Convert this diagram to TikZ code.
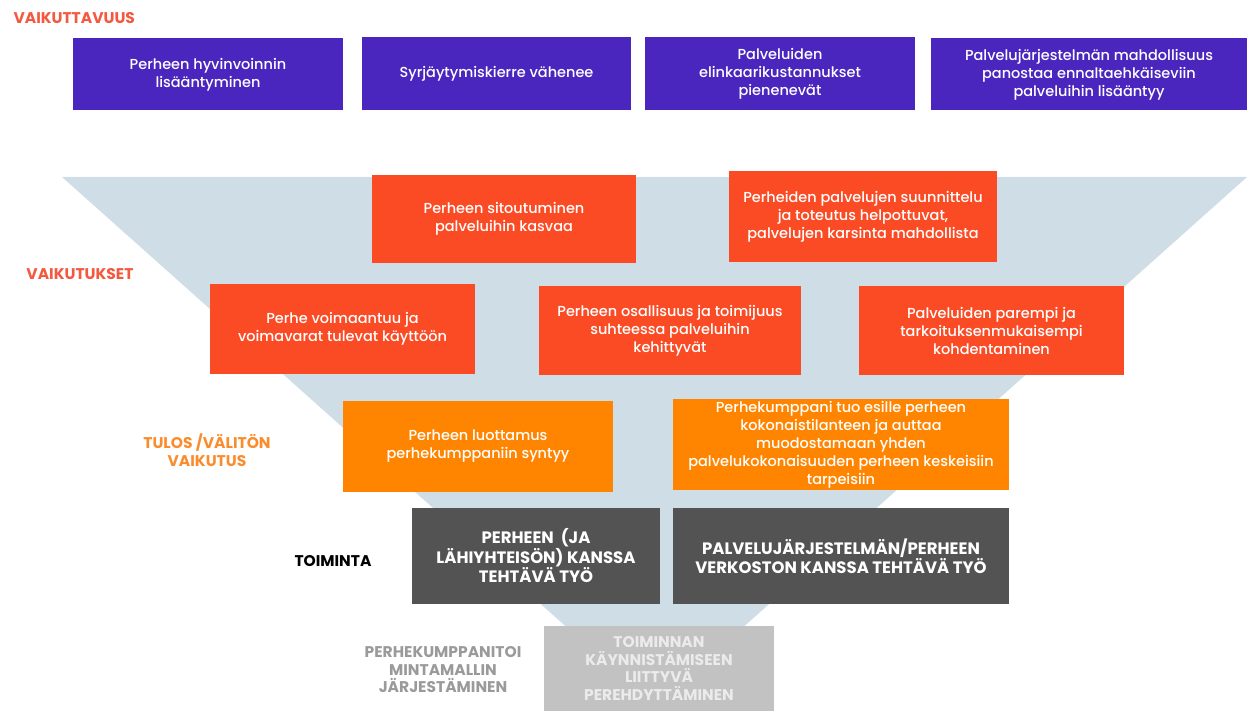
\documentclass[tikz,border=0pt]{standalone}
\usepackage{fontspec}
\setmainfont{Poppins}
\newfontfamily\medfont{Poppins Medium}

\definecolor{purplebg}{RGB}{75,38,190}
\definecolor{redbg}{RGB}{250,75,37}
\definecolor{orangebg}{RGB}{255,133,0}
\definecolor{darkbg}{RGB}{83,83,83}
\definecolor{graybg}{RGB}{194,194,194}
\definecolor{funnel}{RGB}{207,222,230}
\definecolor{labred}{RGB}{244,88,63}
\definecolor{laborange}{RGB}{251,140,46}
\definecolor{labgray}{RGB}{154,154,154}

\begin{document}
\begin{tikzpicture}[x=1pt, y=-1pt]
    \def\bh{90}
    \tikzset{box/.style={rectangle, minimum height=\bh pt, inner sep=2pt, align=center,
                         text=white, font=\medfont\fontsize{14.5}{18}\selectfont}}
    \tikzset{purplebox/.style={box, fill=purplebg, minimum height=72pt}}
    \tikzset{redbox/.style={box, fill=redbg}}
    \tikzset{orangebox/.style={box, fill=orangebg}}
    \tikzset{darkbox/.style={box, fill=darkbg, minimum height=96pt, font=\fontsize{16.5}{17.5}\selectfont\bfseries}}
    \tikzset{graybox/.style={box, fill=graybg, text=white!92!black, minimum height=85pt, font=\fontsize{15.5}{17.5}\selectfont\bfseries}}
    \tikzset{lab/.style={align=center, font=\fontsize{15.5}{17.5}\selectfont\bfseries}}
    \useasboundingbox (0,0) rectangle (1247,711);

    % funnel
    \fill[funnel] (62,177) -- (1247,177) -- (655,706) -- cycle;

    % vaikuttavuus
    \node[lab, text=labred, anchor=west] (lv) at (10,18) {VAIKUTTAVUUS};
    \node[purplebox, minimum width=270pt] (p1) at (208,74.5) {Perheen hyvinvoinnin\\lisääntyminen};
    \node[purplebox, minimum width=269pt, minimum height=73pt] (p2) at (496.5,73.5) {Syrjäytymiskierre vähenee};
    \node[purplebox, minimum width=270pt, minimum height=73pt] (p3) at (780,73.5) {Palveluiden\\elinkaarikustannukset\\pienenevät};
    \node[purplebox, minimum width=316pt] (p4) at (1089,74.5) {Palvelujärjestelmän mahdollisuus\\panostaa ennaltaehkäiseviin\\palveluihin lisääntyy};

    % vaikutukset
    \node[lab, text=labred] (lt) at (80,274) {VAIKUTUKSET};
    \node[redbox, minimum width=264pt, minimum height=88pt] (r1) at (504,219) {Perheen sitoutuminen\\palveluihin kasvaa};
    \node[redbox, minimum width=268pt, minimum height=91pt] (r2) at (863,216.5) {Perheiden palvelujen suunnittelu\\ja toteutus helpottuvat,\\palvelujen karsinta mahdollista};
    \node[redbox, minimum width=265pt] (r3) at (342.5,329) {Perhe voimaantuu ja\\voimavarat tulevat käyttöön};
    \node[redbox, minimum width=262pt, minimum height=89pt] (r4) at (670,330.5) {Perheen osallisuus ja toimijuus\\suhteessa palveluihin\\kehittyvät};
    \node[redbox, minimum width=265pt, minimum height=89pt] (r5) at (991.5,330.5) {Palveluiden parempi ja\\tarkoituksenmukaisempi\\kohdentaminen};

    % tulos
    \node[lab, text=laborange] (lo) at (207,450) {TULOS /VÄLITÖN\\VAIKUTUS};
    \node[orangebox, minimum width=270pt, minimum height=91pt] (o1) at (478,446.5) {Perheen luottamus\\perhekumppaniin syntyy};
    \node[orangebox, minimum width=336pt, minimum height=91pt] (o2) at (841,444.5) {Perhekumppani tuo esille perheen\\kokonaistilanteen ja auttaa\\muodostamaan yhden\\palvelukokonaisuuden perheen keskeisiin\\tarpeisiin};

    % toiminta
    \node[lab, text=black] (lk) at (333,561) {TOIMINTA};
    \node[darkbox, minimum width=248pt] (d1) at (536,556) {PERHEEN \ (JA\\LÄHIYHTEISÖN) KANSSA\\TEHTÄVÄ TYÖ};
    \node[darkbox, minimum width=336pt] (d2) at (841,556) {PALVELUJÄRJESTELMÄN/PERHEEN\\VERKOSTON KANSSA TEHTÄVÄ TYÖ};

    % perehdytys
    \node[lab, text=labgray] (lg) at (443,670) {PERHEKUMPPANITOI\\MINTAMALLIN\\JÄRJESTÄMINEN};
    \node[graybox, minimum width=230pt] (g1) at (659,668.5) {TOIMINNAN\\KÄYNNISTÄMISEEN\\LIITTYVÄ\\PEREHDYTTÄMINEN};
\end{tikzpicture}
\end{document}
